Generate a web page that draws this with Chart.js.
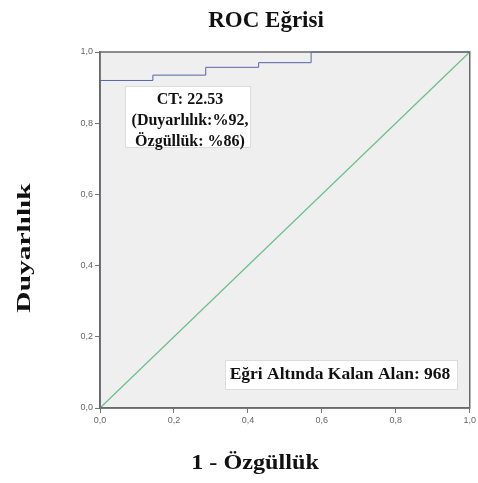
<!DOCTYPE html>
<html>
<head>
<meta charset="utf-8">
<script src="https://cdn.jsdelivr.net/npm/chart.js@4/dist/chart.umd.min.js"></script>
<style>
  html, body { margin: 0; padding: 0; background: #fff; }
  #wrap { width: 478px; height: 483px; position: relative; }
</style>
</head>
<body>
<div id="wrap"><canvas id="roc-chart"></canvas></div>
<script>
// ROC curve points (1 - specificity, sensitivity)
const rocX = [0, 0, 0.143, 0.286, 0.429, 0.571, 1];
const rocY = [0, 0.92, 0.935, 0.957, 0.97, 1, 1];
// reference diagonal
const refX = [0, 1];
const refY = [0, 1];
const tickValues = [0, 0.2, 0.4, 0.6, 0.8, 1];

const chartTitle = 'ROC Eğrisi';
const xTitle = '1 - Özgüllük';
const yTitle = 'Duyarlılık';
const cutoffLines = ['CT: 22.53', '(Duyarlılık:%92,', 'Özgüllük: %86)'];
const aucText = 'Eğri Altında Kalan Alan: 968';

const serif = '"Liberation Serif", "DejaVu Serif", serif';

// Background, frame and text labels
const decorPlugin = {
    id: 'decor',
    beforeDraw(chart) {
        const { ctx, chartArea: a } = chart;
        ctx.save();
        ctx.fillStyle = '#efefef';
        ctx.fillRect(a.left, a.top, a.right - a.left, a.bottom - a.top);
        ctx.restore();
    },
    afterDraw(chart) {
        const { ctx, chartArea: a } = chart;
        ctx.save();
        ctx.strokeStyle = '#6a6a6a';
        ctx.lineWidth = 1.5;
        ctx.strokeRect(a.left, a.top, a.right - a.left, a.bottom - a.top);

        ctx.fillStyle = '#111';
        ctx.textAlign = 'center';
        ctx.textBaseline = 'middle';

        // main title
        ctx.font = 'bold 23px ' + serif;
        ctx.fillText(chartTitle, 266, 21);

        // x title
        ctx.save();
        ctx.translate(255, 463);
        ctx.scale(1.1, 1);
        ctx.font = 'bold 22px ' + serif;
        ctx.fillText(xTitle, 0, 0);
        ctx.restore();

        // y title (stretched along its length like the original)
        ctx.save();
        ctx.translate(25, 248);
        ctx.rotate(-Math.PI / 2);
        ctx.scale(1.55, 1);
        ctx.font = 'bold 19px ' + serif;
        ctx.fillText(yTitle, 0, 0);
        ctx.restore();

        // cutoff box
        ctx.fillStyle = '#fff';
        ctx.strokeStyle = '#dcdcdc';
        ctx.lineWidth = 1;
        ctx.fillRect(125, 86, 125, 61);
        ctx.strokeRect(125.5, 86.5, 125, 61);
        ctx.fillStyle = '#111';
        ctx.font = 'bold 16px ' + serif;
        cutoffLines.forEach((line, i) => {
            ctx.fillText(line, 190, 100 + i * 21);
        });

        // AUC box
        ctx.fillStyle = '#fff';
        ctx.fillRect(225, 360, 232, 29);
        ctx.strokeRect(225.5, 360.5, 232, 29);
        ctx.fillStyle = '#111';
        ctx.font = 'bold 17.5px ' + serif;
        ctx.fillText(aucText, 340, 374);
        ctx.restore();
    }
};

const fmt = v => v.toFixed(1).replace('.', ',');

const axisCommon = {
    type: 'linear',
    min: 0,
    max: 1,
    afterBuildTicks: scale => {
        scale.ticks = tickValues.map(v => ({ value: v }));
    },
    grid: {
        display: true,
        drawOnChartArea: false,
        drawTicks: true,
        tickLength: 5,
        color: '#777'
    },
    border: { display: true, color: '#6a6a6a', width: 1.5 },
    ticks: {
        color: '#666',
        font: { size: 9, family: '"Liberation Sans", Arial, sans-serif' },
        padding: 2,
        maxRotation: 0,
        callback: v => fmt(v)
    }
};

new Chart(document.getElementById('roc-chart'), {
    type: 'scatter',
    data: {
        datasets: [
            {
                label: 'ROC',
                data: rocX.map((x, i) => ({ x: x, y: rocY[i] })),
                showLine: true,
                stepped: 'before',
                borderColor: '#5565a8',
                borderWidth: 1,
                pointRadius: 0,
                fill: false
            },
            {
                label: 'Referans',
                data: refX.map((x, i) => ({ x: x, y: refY[i] })),
                showLine: true,
                borderColor: '#6cbf8a',
                borderWidth: 1.2,
                pointRadius: 0,
                fill: false
            }
        ]
    },
    options: {
        responsive: true,
        maintainAspectRatio: false,
        animation: false,
        clip: false,
        layout: { padding: { top: 52, right: 7, left: 0, bottom: 0 } },
        plugins: {
            legend: { display: false },
            title: { display: false },
            tooltip: { enabled: false }
        },
        scales: {
            x: Object.assign({}, axisCommon, {
                afterFit: scale => { scale.height = 75; }
            }),
            y: Object.assign({}, axisCommon, {
                afterFit: scale => { scale.width = 100; }
            })
        }
    },
    plugins: [decorPlugin]
});
</script>
</body>
</html>
